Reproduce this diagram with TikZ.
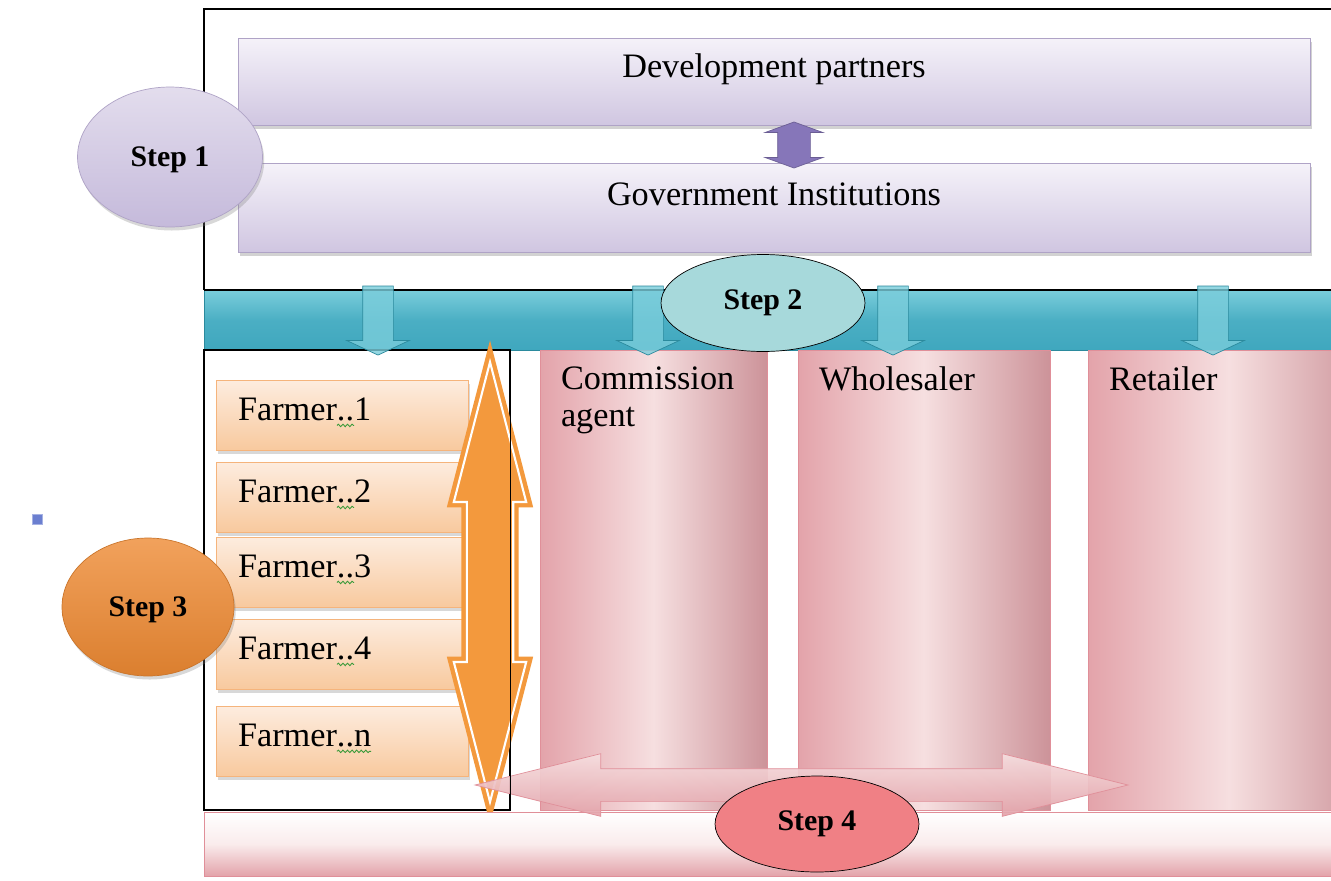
\documentclass[tikz,border=0pt]{standalone}
\usepackage{fontspec}
\setmainfont{Liberation Serif}
\usetikzlibrary{shapes.geometric}
\usetikzlibrary{shapes.arrows}
\usetikzlibrary{shadows}
\usetikzlibrary{decorations,decorations.pathmorphing}

\definecolor{lav}{HTML}{D0C6E1}
\definecolor{lavlight}{HTML}{F5F2F9}
\definecolor{lavedge}{HTML}{AFA3C6}
\definecolor{purp}{HTML}{8676B9}
\definecolor{tealA}{HTML}{3FA7BE}
\definecolor{tealB}{HTML}{7ACDDB}
\definecolor{tealedge}{HTML}{2B8A9D}
\definecolor{steptwo}{HTML}{A7D9DB}
\definecolor{peach}{HTML}{F8C99E}
\definecolor{peachlight}{HTML}{FDECDF}
\definecolor{peachedge}{HTML}{F5B47C}
\definecolor{orangeA}{HTML}{F3993D}
\definecolor{stepthree}{HTML}{EE8A33}
\definecolor{rose}{HTML}{E3A3AA}
\definecolor{roselight}{HTML}{F6DFE0}
\definecolor{roseedge}{HTML}{E08F99}
\definecolor{stepfour}{HTML}{F08085}
\definecolor{spellgreen}{HTML}{3A9A3A}
\definecolor{bulletblue}{HTML}{6B7FD0}

\newsavebox{\spellbox}
\newcommand{\spell}[1]{\sbox{\spellbox}{#1}\rlap{\tikz[overlay]\draw[spellgreen, line width=0.5pt, decorate,
	decoration={snake, amplitude=0.7pt, segment length=2.6pt}] (0pt,-3pt) -- (\wd\spellbox,-3pt);}\usebox{\spellbox}}

\tikzset{
	boxtext/.style={font=\fontsize{19.5}{21}\selectfont},
	steptext/.style={font=\fontsize{17}{20}\selectfont\bfseries},
	lavbox/.style={draw=lavedge, top color=lavlight, bottom color=lav, minimum width=21.44cm, inner sep=0pt,
		drop shadow={shadow xshift=1pt, shadow yshift=-2pt, opacity=.35}},
	farmerbox/.style={boxtext, draw=peachedge, top color=peachlight, bottom color=peach, minimum height=1.4cm,
		text width=4.16cm, text depth=7pt, inner xsep=0.44cm, align=left,
		drop shadow={shadow xshift=1pt, shadow yshift=-2pt, opacity=.3}},
	column/.style={draw=roseedge, left color=rose, right color=rose!90!black, middle color=roselight, minimum height=9.2cm, inner sep=0pt},
	colname/.style={boxtext, anchor=north west, inner xsep=0.42cm, inner ysep=0.34cm, align=left},
	tealarrow/.style={single arrow, rotate=-90, draw=tealedge, fill=tealB, fill opacity=.8, inner xsep=0pt, inner ysep=0.3cm,
		minimum height=1.38cm, single arrow head extend=0.32cm, single arrow tip angle=130},
	stepoval/.style={ellipse, steptext, inner sep=0pt}
}

\begin{document}
\begin{tikzpicture}[x=0.02cm, y=-0.02cm]
	\useasboundingbox (0,0) rectangle (1331,880);
	\clip (0,0) rectangle (1331,880);
	\fill[white] (0,0) rectangle (1331,880);

	\draw[line width=0.9pt] (204,290) -- (204,9) -- (1360,9);

	\node[lavbox, minimum height=1.74cm, label={[boxtext, yshift=0.24cm]center:Development partners}] (dev) at (774,81.5) {};
	\node[lavbox, minimum height=1.78cm, label={[boxtext, yshift=0.26cm]center:Government Institutions}] (gov) at (774,207.5) {};
	\node[double arrow, rotate=90, fill=purp, draw=purp!80!black, inner xsep=0pt, inner ysep=0.32cm, minimum height=0.92cm,
		double arrow head extend=0.25cm, double arrow tip angle=140] (dg) at (794,145) {};

	\node[stepoval, draw=lavedge, top color=lav!60!white, bottom color=lav!85!purp, minimum width=3.7cm, minimum height=2.8cm,
		text depth=-4pt, drop shadow={shadow xshift=1pt, shadow yshift=-2pt, opacity=.3}] (s1) at (170,157) {Step 1};

	% marketing band
	\node[draw=tealedge, top color=tealB, bottom color=tealA, middle color=tealA!80!tealB, minimum width=23.12cm, minimum height=1.2cm,
		inner sep=0pt] (band) at (782,320) {};
	\draw[line width=0.9pt] (204,290) -- (1360,290);

	\node[draw=black, line width=0.8pt, fill=white, minimum width=6.12cm, minimum height=9.2cm, inner sep=0pt] (fpanel) at (357,580) {};
	\node[column, minimum width=4.54cm, label={[colname]north west:Commission\\agent}] (agent) at (653.5,580) {};
	\node[column, minimum width=5.04cm, label={[colname]north west:Wholesaler}] (whole) at (924,580) {};
	\node[column, minimum width=5.64cm, label={[colname]north west:Retailer}] (retail) at (1229,580) {};

	\node[tealarrow] (t1) at (378,317) {};
	\node[tealarrow] (t2) at (648,317) {};
	\node[tealarrow] (t3) at (893,317) {};
	\node[tealarrow] (t4) at (1213,317) {};

	\node[stepoval, draw=black, fill=steptwo, minimum width=4.08cm, minimum height=1.94cm] (s2) at (763,303) {Step 2};

	\node[farmerbox] (f1) at (342,415) {Farmer\spell{..}1};
	\node[farmerbox] (f2) at (342,497) {Farmer\spell{..}2};
	\node[farmerbox] (f3) at (342,572) {Farmer\spell{..}3};
	\node[farmerbox] (f4) at (342,654) {Farmer\spell{..}4};
	\node[farmerbox] (fn) at (342,741) {Farmer\spell{..n}};

	\node[double arrow, rotate=90, fill=orangeA, draw=orangeA, double=white, double distance=1.2pt, line width=2.5pt,
		inner xsep=0pt, inner ysep=0.42cm, minimum height=8.8cm, double arrow head extend=0.26cm, double arrow tip angle=29] (oarrow) at (490,582) {};

	\node[draw=roseedge, top color=white, bottom color=rose, middle color=roselight!60!white, minimum width=23.32cm, minimum height=1.28cm,
		inner sep=0pt] (base) at (787,844) {};
	\node[double arrow, draw=roseedge, top color=roselight, bottom color=rose, fill opacity=.92, inner xsep=0pt, inner ysep=0.32cm,
		minimum height=13.06cm, double arrow head extend=0.3cm, double arrow tip angle=28] (parrow) at (801.5,785) {};
	\draw[line width=0.8pt] (fpanel.north east) -- (fpanel.south east);

	\node[stepoval, draw=black, fill=stepfour, minimum width=4.08cm, minimum height=1.92cm] (s4) at (817,824) {Step 4};
	\node[stepoval, draw=stepthree!85!black, top color=stepthree!80!white, bottom color=stepthree!92!black, minimum width=3.44cm, minimum height=2.76cm,
		text depth=-4pt, drop shadow={shadow xshift=1pt, shadow yshift=-2pt, opacity=.3}] (s3) at (148,607) {Step 3};

	\node[draw=bulletblue!60!white, fill=bulletblue, minimum size=0.2cm, inner sep=0pt] (dot) at (37,519) {};
\end{tikzpicture}
\end{document}
